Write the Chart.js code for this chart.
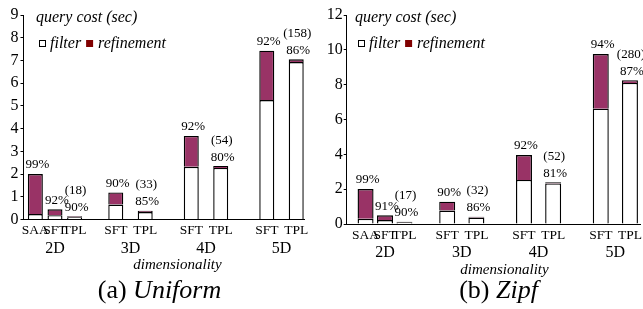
<!DOCTYPE html>
<html>
<head>
<meta charset="utf-8">
<script src="https://cdn.jsdelivr.net/npm/chart.js@4"></script>
<style>
  html, body { margin: 0; padding: 0; background: #fff; }
  #wrap { position: relative; width: 643px; height: 309px; overflow: hidden; }
  canvas { position: absolute; top: 0; }
</style>
</head>
<body>
<div id="wrap">
  <canvas id="uniChart" width="321" height="309" style="left:0"></canvas>
  <canvas id="zipfChart" width="322" height="309" style="left:321px"></canvas>
</div>
<script>
const dims = ['2D', '3D', '4D', '5D'];
const methods = ['SAA', 'SFT', 'TPL'];

// (a) Uniform - query cost in seconds, split into filter / refinement
const uniSaaFilter = [0.24, null, null, null];
const uniSaaRefine = [1.76, null, null, null];
const uniSftFilter = [0.19, 0.66, 2.32, 5.26];
const uniSftRefine = [0.26, 0.53, 1.36, 2.17];
const uniTplFilter = [0.10, 0.33, 2.27, 6.93];
const uniTplRefine = [0.04, 0.05, 0.08, 0.12];
const uniSaaPct = ['99%', null, null, null];
const uniSftPct = ['92%', '90%', '92%', '92%'];
const uniTplPct = ['90%', '85%', '80%', '86%'];
const uniCounts = ['(18)', '(33)', '(54)', '(158)'];
const uniTicks = [0, 1, 2, 3, 4, 5, 6, 7, 8, 9];

// (b) Zipf
const zipfSaaFilter = [0.30, null, null, null];
const zipfSaaRefine = [1.71, null, null, null];
const zipfSftFilter = [0.23, 0.77, 2.53, 6.62];
const zipfSftRefine = [0.27, 0.51, 1.43, 3.14];
const zipfTplFilter = [0.10, 0.37, 2.33, 8.10];
const zipfTplRefine = [0.03, 0.05, 0.06, 0.15];
const zipfSaaPct = ['99%', null, null, null];
const zipfSftPct = ['91%', '90%', '92%', '94%'];
const zipfTplPct = ['90%', '86%', '81%', '87%'];
const zipfCounts = ['(17)', '(32)', '(52)', '(280)'];
const zipfTicks = [0, 2, 4, 6, 8, 10, 12];

const refineColor = '#993366';
const legendRefine = '#800000';
const serif = "'Liberation Serif', 'DejaVu Serif', serif";

Chart.defaults.font.family = serif;
Chart.defaults.color = '#000';

function stackSets(pairs, barW, catPct) {
  const sets = [];
  pairs.forEach(([name, filter, refine]) => {
    const common = {
      stack: name, borderColor: '#000', borderWidth: 1.4,
      skipNull: true, categoryPercentage: catPct, barPercentage: 0.95,
      maxBarThickness: barW
    };
    sets.push(Object.assign({ label: name + ' filter', data: filter, backgroundColor: '#fff' }, common));
    sets.push(Object.assign({ label: name + ' refinement', data: refine, backgroundColor: refineColor }, common));
  });
  return sets;
}

const labelPlugin = {
  id: 'barText',
  afterDatasetsDraw(chart, args, o) {
    const ctx = chart.ctx;
    const area = chart.chartArea;
    const xs = chart.scales.x;
    ctx.save();
    ctx.fillStyle = '#000';
    ctx.textBaseline = 'middle';
    ctx.textAlign = 'center';

    methods.forEach((m, k) => {
      const ds = chart.data.datasets[2 * k + 1];
      const meta = chart.getDatasetMeta(2 * k + 1);
      meta.data.forEach((el, i) => {
        if (ds.data[i] == null) return;
        ctx.font = '13px ' + serif;
        const pct = o.pct[k][i];
        if (pct) ctx.fillText(pct, el.x + 2, el.y - 9);
        if (m === 'TPL') ctx.fillText(o.counts[i], el.x + 1, el.y - 26);
        ctx.font = '13.5px ' + serif;
        ctx.fillText(m, el.x, area.bottom + 11);
      });
    });

    ctx.font = '16px ' + serif;
    dims.forEach((d, i) => ctx.fillText(d, xs.getPixelForValue(i), area.bottom + 29));

    ctx.font = 'italic 15px ' + serif;
    ctx.fillText('dimensionality', o.titleX, area.bottom + 46);

    // caption: "(a) " upright + name in italic
    ctx.font = '26px ' + serif;
    const w1 = ctx.measureText(o.capTag).width;
    ctx.font = 'italic 26px ' + serif;
    const w2 = ctx.measureText(o.capName).width;
    const x0 = o.capX - (w1 + w2) / 2;
    ctx.textAlign = 'left';
    ctx.font = '26px ' + serif;
    ctx.fillText(o.capTag, x0, 291);
    ctx.font = 'italic 26px ' + serif;
    ctx.fillText(o.capName, x0 + w1, 291);

    // axis caption and legend inside plot
    ctx.font = 'italic 16px ' + serif;
    ctx.fillText('query cost (sec)', o.legX, 18);
    let x = o.legX + 3;
    ctx.lineWidth = 1;
    ctx.strokeStyle = '#000';
    ctx.fillStyle = '#fff';
    ctx.fillRect(x + 0.5, 40.5, 6, 6);
    ctx.strokeRect(x + 0.5, 40.5, 6, 6);
    ctx.fillStyle = '#000';
    x += 11;
    ctx.fillText('filter', x, 44);
    x += ctx.measureText('filter').width + 5;
    ctx.fillStyle = legendRefine;
    ctx.fillRect(x, 40, 7, 7);
    ctx.fillStyle = '#000';
    x += 12;
    ctx.fillText('refinement', x, 44);
    ctx.restore();
  }
};

function makeChart(id, sets, cfg) {
  return new Chart(document.getElementById(id), {
    type: 'bar',
    data: { labels: dims, datasets: sets },
    options: {
      responsive: false,
      animation: false,
      devicePixelRatio: 1,
      layout: { padding: { top: 15, right: cfg.padRight, left: 0, bottom: 0 } },
      plugins: {
        legend: { display: false },
        tooltip: { enabled: false },
        barText: cfg.text
      },
      scales: {
        x: {
          stacked: true,
          ticks: { display: false },
          grid: { display: false },
          border: { display: true, color: '#000', width: 1 },
          afterBuildTicks: (s) => { s._startValue = cfg.xStart; s._valueRange = cfg.xRange; },
          afterFit: (s) => { s.height = cfg.xHeight; }
        },
        y: {
          stacked: true,
          min: 0,
          max: cfg.ticks[cfg.ticks.length - 1],
          afterBuildTicks: (s) => { s.ticks = cfg.ticks.map(v => ({ value: v })); },
          ticks: { font: { size: 16 }, padding: cfg.tickPad, color: '#000' },
          grid: { drawOnChartArea: false, tickLength: 3, color: '#000' },
          border: { display: true, color: '#000', width: 1 },
          afterFit: (s) => { s.width = cfg.yWidth; }
        }
      }
    },
    plugins: [labelPlugin]
  });
}

makeChart('uniChart', stackSets([
  ['SAA', uniSaaFilter, uniSaaRefine],
  ['SFT', uniSftFilter, uniSftRefine],
  ['TPL', uniTplFilter, uniTplRefine]
], 15, 0.78), {
  ticks: uniTicks, padRight: 17, yWidth: 23.5, xHeight: 89.5, tickPad: 2,
  xStart: -0.417, xRange: 3.715,
  text: { pct: [uniSaaPct, uniSftPct, uniTplPct], counts: uniCounts,
          titleX: 177.5, capX: 159.5, capTag: '(a) ', capName: 'Uniform', legX: 36 }
});

makeChart('zipfChart', stackSets([
  ['SAA', zipfSaaFilter, zipfSaaRefine],
  ['SFT', zipfSftFilter, zipfSftRefine],
  ['TPL', zipfTplFilter, zipfTplRefine]
], 16, 0.76), {
  ticks: zipfTicks, padRight: 3, yWidth: 25.7, xHeight: 85, tickPad: 1,
  xStart: -0.499, xRange: 3.82,
  text: { pct: [zipfSaaPct, zipfSftPct, zipfTplPct], counts: zipfCounts,
          titleX: 183.5, capX: 177.5, capTag: '(b) ', capName: 'Zipf', legX: 34 }
});
</script>
</body>
</html>
